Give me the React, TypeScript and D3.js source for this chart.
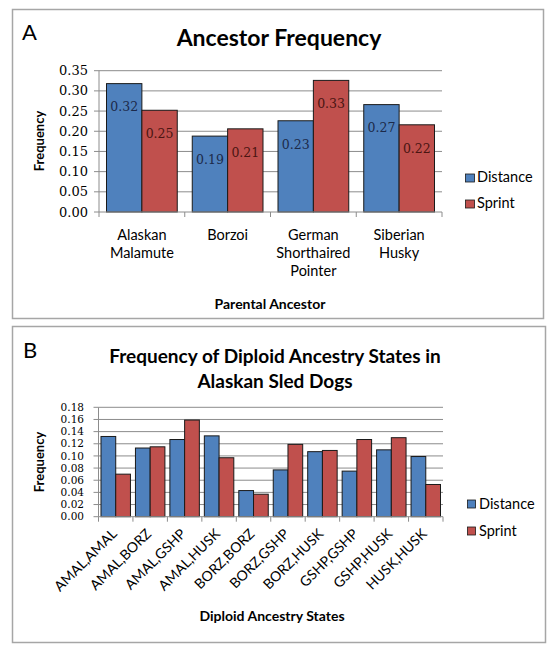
import React from "react";
import * as d3 from "d3";

// ---------- Data ----------
const seriesNames = ["Distance", "Sprint"];
const seriesColors = ["#4F81BD", "#C0504D"];
const labelColors = ["#1c2a4a", "#4a1512"];

const ancestorCategories = ["Alaskan Malamute", "Borzoi", "German Shorthaired Pointer", "Siberian Husky"];
const ancestorLabelLines = [["Alaskan", "Malamute"], ["Borzoi"], ["German", "Shorthaired", "Pointer"], ["Siberian", "Husky"]];
const ancestorDistance = [0.318, 0.188, 0.226, 0.266];
const ancestorSprint = [0.252, 0.206, 0.326, 0.216];
const ancestorTicks = [0, 0.05, 0.1, 0.15, 0.2, 0.25, 0.3, 0.35];

const diploidStates = ["AMAL,AMAL", "AMAL,BORZ", "AMAL,GSHP", "AMAL,HUSK", "BORZ,BORZ", "BORZ,GSHP", "BORZ,HUSK", "GSHP,GSHP", "GSHP,HUSK", "HUSK,HUSK"];
const diploidDistance = [0.132, 0.113, 0.127, 0.133, 0.043, 0.077, 0.107, 0.075, 0.110, 0.099];
const diploidSprint = [0.070, 0.115, 0.159, 0.097, 0.037, 0.119, 0.109, 0.127, 0.130, 0.053];
const diploidTicks = [0, 0.02, 0.04, 0.06, 0.08, 0.1, 0.12, 0.14, 0.16, 0.18];

const SANS = "Lato, 'Open Sans', sans-serif";
const SERIF = "'DejaVu Serif', serif";
const GRID = "#8c8c8c";

function PanelA() {
  const x0 = d3.scaleBand<string>().domain(ancestorCategories).range([99, 442]).paddingInner(0.175).paddingOuter(0.0875);
  const x1 = d3.scaleBand<string>().domain(seriesNames).range([0, x0.bandwidth()]);
  const y = d3.scaleLinear().domain([0, 0.35]).range([212, 70.7]);
  const series = [ancestorDistance, ancestorSprint];
  const step = x0.step();
  return (
    <g>
      <rect x={12.5} y={9.5} width={531} height={309} fill="#fff" stroke="#a6a6a6" strokeWidth={1.5} />
      <text x={22} y={40} fontFamily={SANS} fontSize={22} fill="#000">A</text>
      <text x={279} y={46} textAnchor="middle" fontFamily={SANS} fontWeight="bold" fontSize={23} fill="#000">Ancestor Frequency</text>
      {ancestorTicks.map((t) => (
        <g key={t}>
          {t > 0 && <line x1={99} x2={442} y1={y(t)} y2={y(t)} stroke={GRID} strokeWidth={1} />}
          <line x1={94} x2={99} y1={y(t)} y2={y(t)} stroke={GRID} strokeWidth={1} />
          <text x={88} y={y(t)} dy="0.35em" textAnchor="end" fontFamily={SERIF} fontSize={13} fill="#000">{t.toFixed(2)}</text>
        </g>
      ))}
      <line x1={99} x2={99} y1={y(0.35)} y2={y(0)} stroke={GRID} />
      {ancestorCategories.map((c, i) => (
        <g key={c}>
          {series.map((s, k) => {
            const bx = (x0(c) as number) + (x1(seriesNames[k]) as number);
            const w = x1.bandwidth();
            return (
              <g key={k}>
                <rect x={bx} y={y(s[i])} width={w} height={y(0) - y(s[i])} fill={seriesColors[k]} stroke="#1a1a1a" strokeWidth={1} />
                <text x={bx + w / 2} y={y(s[i]) + 23.5} dy="0.35em" textAnchor="middle" fontFamily={SERIF} fontSize={12.5} fill={labelColors[k]}>{s[i].toFixed(2)}</text>
              </g>
            );
          })}
        </g>
      ))}
      <line x1={99} x2={442} y1={y(0)} y2={y(0)} stroke={GRID} />
      {d3.range(ancestorCategories.length + 1).map((i) => (
        <line key={i} x1={99 + i * step} x2={99 + i * step} y1={y(0)} y2={y(0) + 5} stroke={GRID} />
      ))}
      {ancestorCategories.map((c, i) => (
        <text key={c} textAnchor="middle" fontFamily={SANS} fontSize={14.5} fill="#000">
          {ancestorLabelLines[i].map((ln, j) => (
            <tspan key={j} x={(x0(c) as number) + x0.bandwidth() / 2} y={240 + j * 18}>{ln}</tspan>
          ))}
        </text>
      ))}
      <text transform={`translate(44,141) rotate(-90)`} textAnchor="middle" fontFamily={SANS} fontWeight="bold" fontSize={13} fill="#000">Frequency</text>
      <text x={270} y={309} textAnchor="middle" fontFamily={SANS} fontWeight="bold" fontSize={14} fill="#000">Parental Ancestor</text>
      {seriesNames.map((n, k) => (
        <g key={n}>
          <rect x={465.5} y={174 + k * 26} width={9} height={8} fill={seriesColors[k]} stroke="#1a1a1a" strokeWidth={0.8} />
          <text x={477} y={182 + k * 26} fontFamily={SANS} fontSize={14.5} fill="#000">{n}</text>
        </g>
      ))}
    </g>
  );
}

function PanelB() {
  const x0 = d3.scaleBand<string>().domain(diploidStates).range([98.5, 443]).paddingInner(0.145).paddingOuter(0.0725);
  const x1 = d3.scaleBand<string>().domain(seriesNames).range([0, x0.bandwidth()]);
  const y = d3.scaleLinear().domain([0, 0.18]).range([516.7, 407.3]);
  const series = [diploidDistance, diploidSprint];
  const step = x0.step();
  return (
    <g>
      <rect x={12.5} y={326.5} width={533} height={316} fill="#fff" stroke="#a6a6a6" strokeWidth={1.5} />
      <text x={23} y={358} fontFamily={SANS} fontSize={22} fill="#000">B</text>
      <text x={275} y={363} textAnchor="middle" fontFamily={SANS} fontWeight="bold" fontSize={19} fill="#000">Frequency of Diploid Ancestry States in</text>
      <text x={275} y={388} textAnchor="middle" fontFamily={SANS} fontWeight="bold" fontSize={19} fill="#000">Alaskan Sled Dogs</text>
      {diploidTicks.map((t) => (
        <g key={t}>
          {t > 0 && <line x1={98.5} x2={443} y1={y(t)} y2={y(t)} stroke={GRID} strokeWidth={1} />}
          <line x1={93.5} x2={98.5} y1={y(t)} y2={y(t)} stroke={GRID} strokeWidth={1} />
          <text x={84} y={y(t)} dy="0.35em" textAnchor="end" fontFamily={SERIF} fontSize={10.5} fill="#000">{t.toFixed(2)}</text>
        </g>
      ))}
      <line x1={98.5} x2={98.5} y1={y(0.18)} y2={y(0)} stroke={GRID} />
      {diploidStates.map((c, i) => (
        <g key={c}>
          {series.map((s, k) => {
            const bx = (x0(c) as number) + (x1(seriesNames[k]) as number);
            const w = x1.bandwidth();
            return <rect key={k} x={bx} y={y(s[i])} width={w} height={y(0) - y(s[i])} fill={seriesColors[k]} stroke="#1a1a1a" strokeWidth={1} />;
          })}
        </g>
      ))}
      <line x1={98.5} x2={443} y1={y(0)} y2={y(0)} stroke={GRID} />
      {d3.range(diploidStates.length + 1).map((i) => (
        <line key={i} x1={98.5 + i * step} x2={98.5 + i * step} y1={y(0)} y2={y(0) + 5} stroke={GRID} />
      ))}
      {diploidStates.map((c) => {
        const cx = (x0(c) as number) + x0.bandwidth() / 2 + 2;
        const cy = y(0) + 18;
        return (
          <text key={c} transform={`translate(${cx},${cy}) rotate(-45)`} textAnchor="end" fontFamily={SANS} fontSize={14} fill="#000">{c}</text>
        );
      })}
      <text transform={`translate(44,462) rotate(-90)`} textAnchor="middle" fontFamily={SANS} fontWeight="bold" fontSize={13} fill="#000">Frequency</text>
      <text x={272} y={621} textAnchor="middle" fontFamily={SANS} fontWeight="bold" fontSize={14} fill="#000">Diploid Ancestry States</text>
      {seriesNames.map((n, k) => (
        <g key={n}>
          <rect x={467.5} y={500 + k * 27} width={8} height={8} fill={seriesColors[k]} stroke="#1a1a1a" strokeWidth={0.8} />
          <text x={479} y={508.5 + k * 27} fontFamily={SANS} fontSize={14.5} fill="#000">{n}</text>
        </g>
      ))}
    </g>
  );
}

export default function App() {
  return (
    <svg width={553} height={652} style={{ position: "absolute", left: 0, top: 0, background: "#fff" }}>
      <rect x={0} y={0} width={553} height={652} fill="#fff" />
      <PanelA />
      <PanelB />
    </svg>
  );
}
